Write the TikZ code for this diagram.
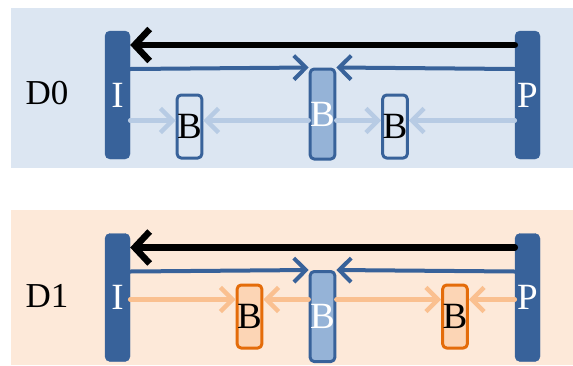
\documentclass[tikz,border=0pt]{standalone}
\usepackage{fontspec}
\setmainfont{Liberation Serif}
\usetikzlibrary{arrows.meta}
\definecolor{barblue}{HTML}{38629A}
\definecolor{midfill}{HTML}{95B3D7}
\definecolor{lightline}{HTML}{B7CBE4}
\definecolor{bgblue}{HTML}{DCE6F2}
\definecolor{bgorange}{HTML}{FDE9D9}
\definecolor{orangeline}{HTML}{E46C0A}
\definecolor{orangefill}{HTML}{FCD5B5}
\definecolor{orangearrow}{HTML}{FAC090}

\begin{document}
\begin{tikzpicture}[x=1pt, y=-1pt, line join=round, line cap=round,
    letter/.style={font=\fontsize{37}{37}\selectfont},
    bar/.style={letter, fill=barblue, draw=barblue, text=white, rounded corners=5pt,
        minimum width=25pt, minimum height=128pt, inner sep=0pt},
    midbox/.style={letter, fill=midfill, draw=barblue, line width=3pt, text=white,
        rounded corners=4pt, minimum width=23pt, minimum height=90pt, inner sep=0pt},
    openbox/.style={letter, draw=barblue, line width=3pt, rounded corners=4pt,
        minimum width=23pt, minimum height=63pt, inner sep=0pt},
    orangebox/.style={openbox, draw=orangeline, fill=orangefill},
    backarrow/.style={line width=6.5pt, -{Straight Barb[length=15pt, width=32pt]}},
    bluearrow/.style={barblue, line width=4pt, -{Straight Barb[length=12pt, width=24pt]}},
    lightarrow/.style={lightline, line width=4.5pt, -{Straight Barb[length=12pt, width=24pt]}},
    orangeline/.style={lightarrow, orangearrow},
  ]
  \useasboundingbox (0,0) rectangle (573,365);
  \fill[bgblue] (11,8) rectangle (573,168);
  \fill[bgorange] (11,210) rectangle (573,365);

  \foreach \k/\dy in {0/0, 1/202.5}{
    \begin{scope}[yshift=-\dy pt]
      \node[bar] (I\k) at (117.5,95) {I};
      \node[bar] (P\k) at (527.5,95) {P};
      \node[midbox] (B\k) at (322.5,114) {B};
      \node[font=\fontsize{35}{35}\selectfont] (D\k) at (47,93) {D\k};
      \coordinate (top\k) at (0,45);
      \coordinate (mid\k) at (0,69);
      \draw[backarrow] (P\k.west |- top\k) -- (I\k.east |- top\k);
      \draw[bluearrow] (I\k.east |- mid\k) -- (B\k.north west);
      \draw[bluearrow] (P\k.west |- mid\k) -- (B\k.north east);
    \end{scope}
  }

  \node[openbox] (L0) at (189.5,126.5) {B};
  \node[openbox] (R0) at (395,126.5) {B};
  \coordinate (low0) at (0,120.5);
  \foreach \a/\b in {I0.east/L0.west, B0.west/L0.east, B0.east/R0.west, P0.west/R0.east}
    \draw[lightarrow] (\a |- low0) -- (\b |- low0);

  \node[orangebox] (L1) at (249.5,316.5) {B};
  \node[orangebox] (R1) at (455,316.5) {B};
  \coordinate (low1) at (0,299.5);
  \foreach \a/\b in {I1.east/L1.west, B1.west/L1.east, B1.east/R1.west, P1.west/R1.east}
    \draw[orangeline] (\a |- low1) -- (\b |- low1);
\end{tikzpicture}
\end{document}
